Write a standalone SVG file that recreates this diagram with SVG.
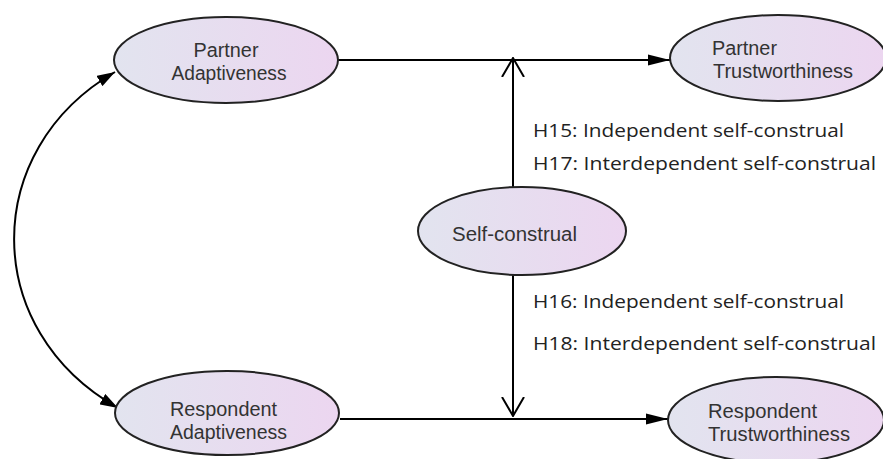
<svg xmlns="http://www.w3.org/2000/svg" width="883" height="459" viewBox="0 0 883 459">
<defs>
<linearGradient id="g" x1="0" y1="0" x2="1" y2="0">
<stop offset="0" stop-color="#e2e4ef"/>
<stop offset="1" stop-color="#ecd6f0"/>
</linearGradient>
<marker id="fa" viewBox="0 0 18 12" refX="18" refY="6" markerWidth="18" markerHeight="12" markerUnits="userSpaceOnUse" orient="auto-start-reverse">
<path d="M0,0 L18,6 L0,12 z" fill="#000"/>
</marker>
<marker id="fb" viewBox="0 0 22 12" refX="22" refY="6" markerWidth="22" markerHeight="12" markerUnits="userSpaceOnUse" orient="auto">
<path d="M0,0.5 L22,6 L0,11.5 z" fill="#000"/>
</marker>
<marker id="oa" viewBox="0 0 20 24" refX="19" refY="12" markerWidth="20" markerHeight="24" markerUnits="userSpaceOnUse" orient="auto">
<path d="M0,1 L19,12 L0,23" fill="none" stroke="#000" stroke-width="2"/>
</marker>
</defs>
<style>
.node ellipse{fill:url(#g);stroke:#222;stroke-width:2}
.node text{font-family:"Liberation Sans",Arial,sans-serif;font-size:19.5px;fill:#333}
.m{text-anchor:middle}
.lbl{font-family:"Open Sans","Liberation Sans",sans-serif;font-size:18.5px;fill:#222}
.c{fill:none;stroke:#000;stroke-width:2}
</style>
<rect width="883" height="459" fill="#fff"/>
<g id="connectors">
<path class="c" d="M115,72 C-20,150 -20,330 118,408" marker-start="url(#fa)" marker-end="url(#fa)"/>
<path class="c" d="M338,60 L670,60" marker-end="url(#fb)"/>
<path class="c" d="M340,419 L668,419" marker-end="url(#fb)"/>
<path class="c" d="M513,187 L513,58" marker-end="url(#oa)"/>
<path class="c" d="M513,275 L513,416" marker-end="url(#oa)"/>
</g>
<g id="partner-adaptiveness" class="node">
<ellipse cx="226" cy="60" rx="112" ry="43"/>
<text class="m" x="226" y="57" textLength="65" lengthAdjust="spacingAndGlyphs">Partner</text>
<text class="m" x="229" y="80" textLength="115" lengthAdjust="spacingAndGlyphs">Adaptiveness</text>
</g>
<g id="partner-trustworthiness" class="node">
<ellipse cx="778" cy="58" rx="108" ry="43"/>
<text x="712" y="55" textLength="65" lengthAdjust="spacingAndGlyphs">Partner</text>
<text x="713" y="78" textLength="140" lengthAdjust="spacingAndGlyphs">Trustworthiness</text>
</g>
<g id="self-construal" class="node">
<ellipse cx="522" cy="231" rx="104" ry="44"/>
<text x="452" y="241" textLength="125" lengthAdjust="spacingAndGlyphs">Self-construal</text>
</g>
<g id="respondent-adaptiveness" class="node">
<ellipse cx="227" cy="413" rx="112" ry="42"/>
<text x="170" y="416" textLength="107" lengthAdjust="spacingAndGlyphs">Respondent</text>
<text x="170" y="439" textLength="117" lengthAdjust="spacingAndGlyphs">Adaptiveness</text>
</g>
<g id="respondent-trustworthiness" class="node">
<ellipse cx="776" cy="420" rx="108" ry="43"/>
<text x="708" y="418" textLength="109" lengthAdjust="spacingAndGlyphs">Respondent</text>
<text x="708" y="441" textLength="142" lengthAdjust="spacingAndGlyphs">Trustworthiness</text>
</g>
<g id="labels">
<text class="lbl" x="533" y="137" textLength="311" lengthAdjust="spacingAndGlyphs">H15: Independent self-construal</text>
<text class="lbl" x="533" y="170" textLength="343" lengthAdjust="spacingAndGlyphs">H17: Interdependent self-construal</text>
<text class="lbl" x="533" y="308" textLength="311" lengthAdjust="spacingAndGlyphs">H16: Independent self-construal</text>
<text class="lbl" x="533" y="350" textLength="343" lengthAdjust="spacingAndGlyphs">H18: Interdependent self-construal</text>
</g>
</svg>
